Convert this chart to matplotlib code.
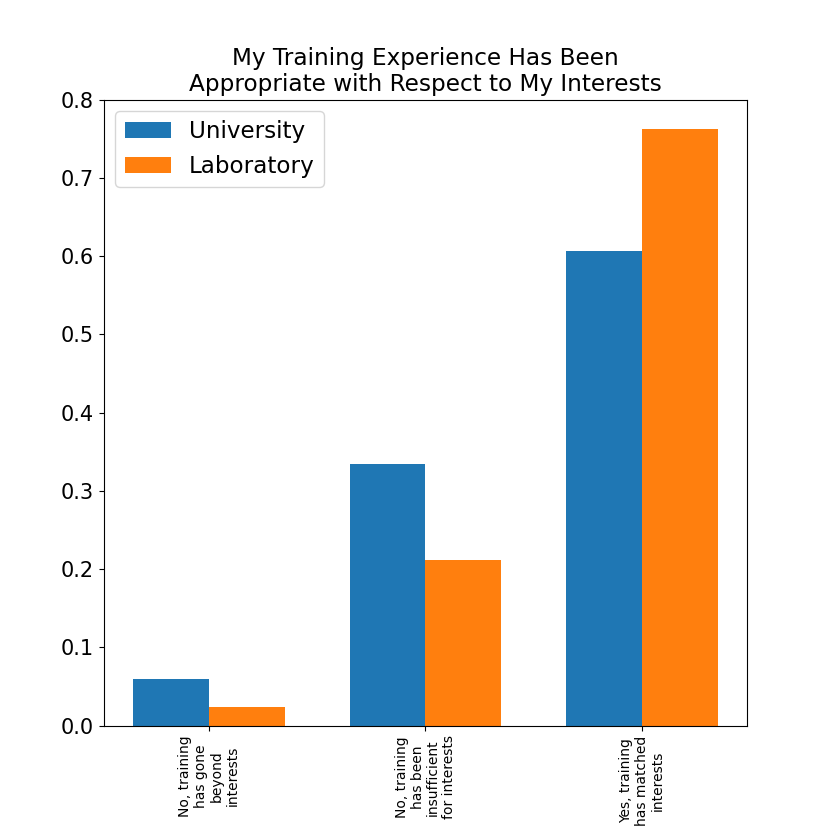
import matplotlib
matplotlib.use('Agg')
from matplotlib import pyplot as plt
import numpy as np

categories = ['No, training\nhas gone\nbeyond\ninterests',
              'No, training\nhas been\ninsufficient\nfor interests',
              'Yes, training\nhas matched\ninterests']
university = [0.059, 0.335, 0.607]
laboratory = [0.024, 0.212, 0.763]

fig = plt.figure(figsize=(8.3, 8.3), dpi=100)
ax = fig.add_axes([0.125, 0.1257, 0.775, 0.7543])
x = np.arange(len(categories))
w = 0.35
ax.bar(x - w / 2, university, w, label='University')
ax.bar(x + w / 2, laboratory, w, label='Laboratory')
ax.set_ylim(0, 0.8)
ax.set_xticks(x)
ax.set_xticklabels(categories, rotation=90, fontsize=10, ha='center',
                   multialignment='center', linespacing=1.15)
ax.tick_params(axis='y', labelsize=15)
ax.set_title('My Training Experience Has Been\nAppropriate with Respect to My Interests', fontsize=16.7)
ax.legend(fontsize=16.6, loc='upper left')
fig.savefig('out.png')
